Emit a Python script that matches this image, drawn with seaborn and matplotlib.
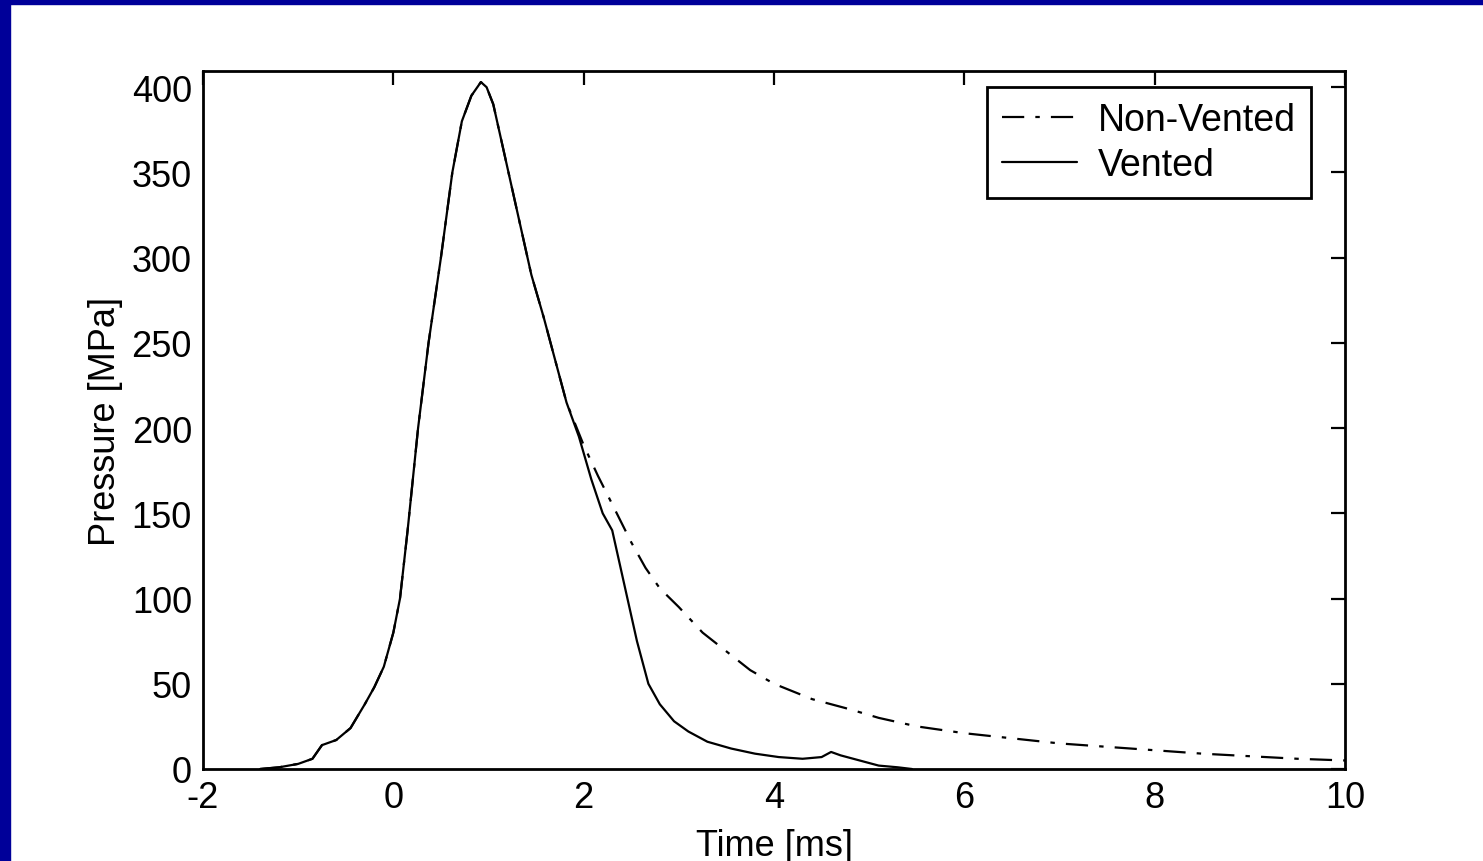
import numpy as np
import pandas as pd
import seaborn as sns
import matplotlib.pyplot as plt
from matplotlib.patches import Rectangle

# Vented shot: time [ms] and pressure [MPa]
t_vented = [-1.4, -1.2, -1.0, -0.85, -0.75, -0.6, -0.45, -0.3, -0.2, -0.1, 0.0, 0.07,
            0.15, 0.26, 0.37, 0.5, 0.62, 0.72, 0.82, 0.92, 0.98, 1.05, 1.15, 1.25, 1.35,
            1.45, 1.58, 1.7, 1.82, 1.95, 2.08, 2.2, 2.3, 2.38, 2.46, 2.56, 2.68, 2.8,
            2.95, 3.1, 3.3, 3.55, 3.8, 4.05, 4.3, 4.5, 4.6, 4.7, 4.9, 5.1, 5.3, 5.45]
p_vented = [0, 1, 3, 6, 14, 17, 24, 38, 48, 60, 80, 100,
            140, 200, 250, 300, 350, 380, 395, 403, 400, 390, 365, 340, 315,
            290, 265, 240, 215, 195, 170, 150, 140, 120, 100, 75, 50, 38,
            28, 22, 16, 12, 9, 7, 6, 7, 10, 8, 5, 2, 1, 0]

# Non-vented shot
t_nonvented = [-1.4, -1.2, -1.0, -0.85, -0.75, -0.6, -0.45, -0.3, -0.2, -0.1, 0.0, 0.07,
               0.15, 0.26, 0.37, 0.5, 0.62, 0.72, 0.82, 0.92, 0.98, 1.05, 1.15, 1.25, 1.35,
               1.45, 1.58, 1.7, 1.82, 2.0, 2.15, 2.33, 2.5, 2.65, 2.8, 3.0, 3.25, 3.5,
               3.75, 4.0, 4.4, 4.8, 5.1, 5.5, 6.0, 6.5, 7.0, 7.5, 8.0, 8.5, 9.0, 9.5, 10.0]
p_nonvented = [0, 1, 3, 6, 14, 17, 24, 38, 48, 60, 80, 100,
               140, 200, 250, 300, 350, 380, 395, 403, 400, 390, 365, 340, 315,
               290, 265, 240, 215, 190, 172, 152, 133, 118, 106, 95, 80, 69,
               58, 50, 41, 35, 30, 25, 21, 18, 15, 13, 11, 9, 7.5, 6, 5]

x_ticks = [-2, 0, 2, 4, 6, 8, 10]
y_ticks = [0, 50, 100, 150, 200, 250, 300, 350, 400]

sns.set_style('white')
plt.rcParams['font.family'] = ['Liberation Sans', 'DejaVu Sans']
plt.rcParams['axes.unicode_minus'] = False
plt.rcParams['text.color'] = 'black'
plt.rcParams['axes.labelcolor'] = 'black'

fig = plt.figure(figsize=(14.83, 8.62), dpi=100)
ax = fig.add_axes([203 / 1483, 1 - 770 / 862, (1345 - 203) / 1483, (770 - 72) / 862])

sns.lineplot(x=t_nonvented, y=p_nonvented, ax=ax, color='black', lw=1.6,
             linestyle=(0, (10, 5, 2, 5)), label='Non-Vented', sort=False)
sns.lineplot(x=t_vented, y=p_vented, ax=ax, color='black', lw=1.6,
             linestyle='-', label='Vented', sort=False)

ax.set_xlim(-2, 10)
ax.set_ylim(0, 409.5)
ax.set_xticks(x_ticks)
ax.set_yticks(y_ticks)
ax.tick_params(direction='in', length=10, width=1.6, labelsize=26, colors='black',
               top=True, right=True, pad=8)
for s in ax.spines.values():
    s.set_visible(True)
    s.set_color('black')
    s.set_linewidth(2)

ax.set_xlabel('Time [ms]', fontsize=26, labelpad=9)
ax.set_ylabel('Pressure [MPa]', fontsize=26, labelpad=6)

leg = ax.legend(loc='upper left', bbox_to_anchor=((987 - 203) / 1142, (770 - 88) / 698),
                borderaxespad=0, fontsize=27, frameon=True, fancybox=False,
                handlelength=2.0, handletextpad=0.55, borderpad=0.4, labelspacing=0.25)
leg.get_frame().set_edgecolor('black')
leg.get_frame().set_linewidth(2)
leg.get_frame().set_alpha(1)

# blue slide border on left and top
fig.patches.append(Rectangle((0, 0), 10 / 1483, 1, transform=fig.transFigure,
                             color='#000099', zorder=10))
fig.patches.append(Rectangle((0, 1 - 5 / 862), 1, 5 / 862, transform=fig.transFigure,
                             color='#000099', zorder=10))

fig.savefig('out.png', dpi=100, facecolor='white')
